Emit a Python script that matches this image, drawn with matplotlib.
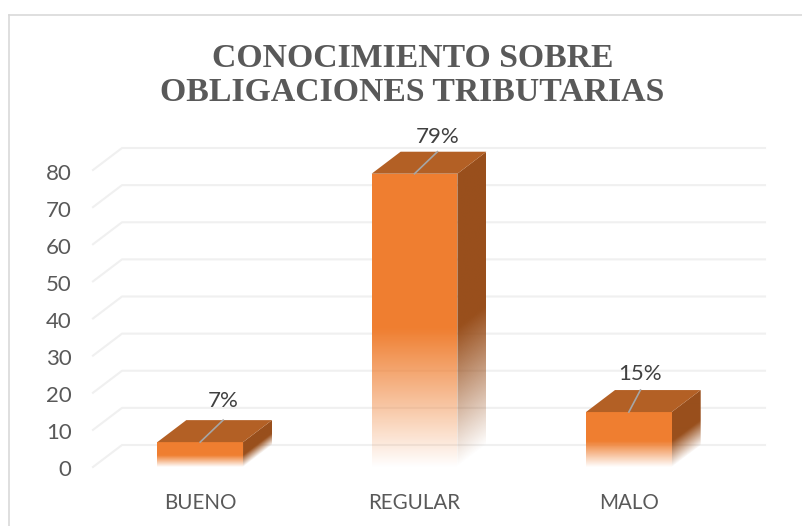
import numpy as np
import matplotlib
matplotlib.use('Agg')
import matplotlib.pyplot as plt
from matplotlib.patches import Polygon
from matplotlib.transforms import ScaledTranslation

categories = ['BUENO', 'REGULAR', 'MALO']
values = [6.7, 79, 14.8]
percent_labels = ['7%', '79%', '15%']
y_ticks = [0, 10, 20, 30, 40, 50, 60, 70, 80]

W, H = 803, 526
fig = plt.figure(figsize=(W / 100, H / 100), dpi=100, facecolor='white')

# axes = front plane of the fake 3d box, in pixels
left, right, bottom, top = 93, 736, 467, 170
ax = fig.add_axes([left / W, 1 - bottom / H, (right - left) / W, (bottom - top) / H])
ax.patch.set_alpha(0)
for s in ax.spines.values():
    s.set_visible(False)

# depth offset of the 3d look, in data units
dx = 29 / ((right - left) / 3)
dy = 22 / ((bottom - top) / 80)
bar_w = 0.4

grid_col = '#f0f0f0'
for v in y_ticks:
    ax.plot([-0.5, -0.5 + dx, 2.5 + dx], [v, v + dy, v + dy], color=grid_col, lw=1.5, clip_on=False, zorder=1)

front = np.array([0.94, 0.495, 0.19])
side = np.array([0.60, 0.31, 0.11])
cap = np.array([0.70, 0.375, 0.145])
fade = 0.47
label_dx = [0.107, 0.107, 0.054]
label_dy = [2.5, 1.3, 1.6]


def fade_face(x0, x1, h, col, skew):
    # skew = 0 for the front face, 1 for the side face going back
    nx, ny = 60, 400
    y_top = h + skew * dy
    xs = (np.arange(nx) + 0.5) / nx
    ys = (np.arange(ny) + 0.5) / ny * y_top
    u, yy = np.meshgrid(xs, ys)
    a = np.clip((yy - skew * dy * u) / (h * fade), 0, 1)
    img = np.zeros((ny, nx, 4))
    img[..., :3] = col
    img[..., 3] = a
    im = ax.imshow(img, extent=[x0, x1, 0, y_top], origin='lower', aspect='auto',
                   interpolation='bilinear', zorder=3)
    poly = Polygon([[x0, 0], [x1, skew * dy], [x1, h + skew * dy], [x0, h]], closed=True,
                   transform=ax.transData, fc='none', ec='none')
    ax.add_patch(poly)
    im.set_clip_path(poly)
    # the side face goes above the axes top for the tall bar
    im.set_clip_box(fig.bbox)


for i, v in enumerate(values):
    x0, x1 = i - bar_w / 2, i + bar_w / 2
    fade_face(x0, x1, v, front, 0)
    fade_face(x1, x1 + dx, v, side, 1)
    ax.fill([x0, x1, x1 + dx, x0 + dx], [v, v, v + dy, v + dy], color=cap, lw=0, clip_on=False, zorder=3)
    ax.plot([i, i + label_dx[i]], [v, v + dy], color='#a6a6a6', lw=1.2, clip_on=False, zorder=4)
    ax.text(i + label_dx[i], v + dy + label_dy[i], percent_labels[i], ha='center', va='bottom', fontsize=16,
            family='Lato', color='#404040', zorder=5)

ax.set_xlim(-0.5, 2.5)
ax.set_ylim(0, 80)
ax.set_xticks(range(3))
ax.set_xticklabels(categories, family='Lato', fontsize=14.8, color='#595959')
ax.set_yticks(y_ticks)
ax.set_yticklabels([str(v) for v in y_ticks], family='Lato', fontsize=16, color='#595959', va='center_baseline')
ax.tick_params(length=0)
ax.tick_params(axis='x', pad=18.5)
ax.tick_params(axis='y', pad=15.5)
shift_down = ScaledTranslation(0, -1.5 / 100, fig.dpi_scale_trans)
for lab in ax.get_yticklabels():
    lab.set_transform(lab.get_transform() + shift_down)

fig.text(412.5 / W, 1 - 75.5 / H, 'CONOCIMIENTO SOBRE\nOBLIGACIONES TRIBUTARIAS', ha='center', va='center',
         family='Liberation Serif', fontweight='bold', fontsize=24.3, color='#595959', linespacing=1.15)

# chart frame
fig.add_artist(plt.Line2D([9 / W, 9 / W], [0, 1 - 15 / H], color='#d9d9d9', lw=1.2))
fig.add_artist(plt.Line2D([9 / W, 1], [1 - 15 / H, 1 - 15 / H], color='#d9d9d9', lw=1.2))

fig.savefig('out.png', dpi=100)
